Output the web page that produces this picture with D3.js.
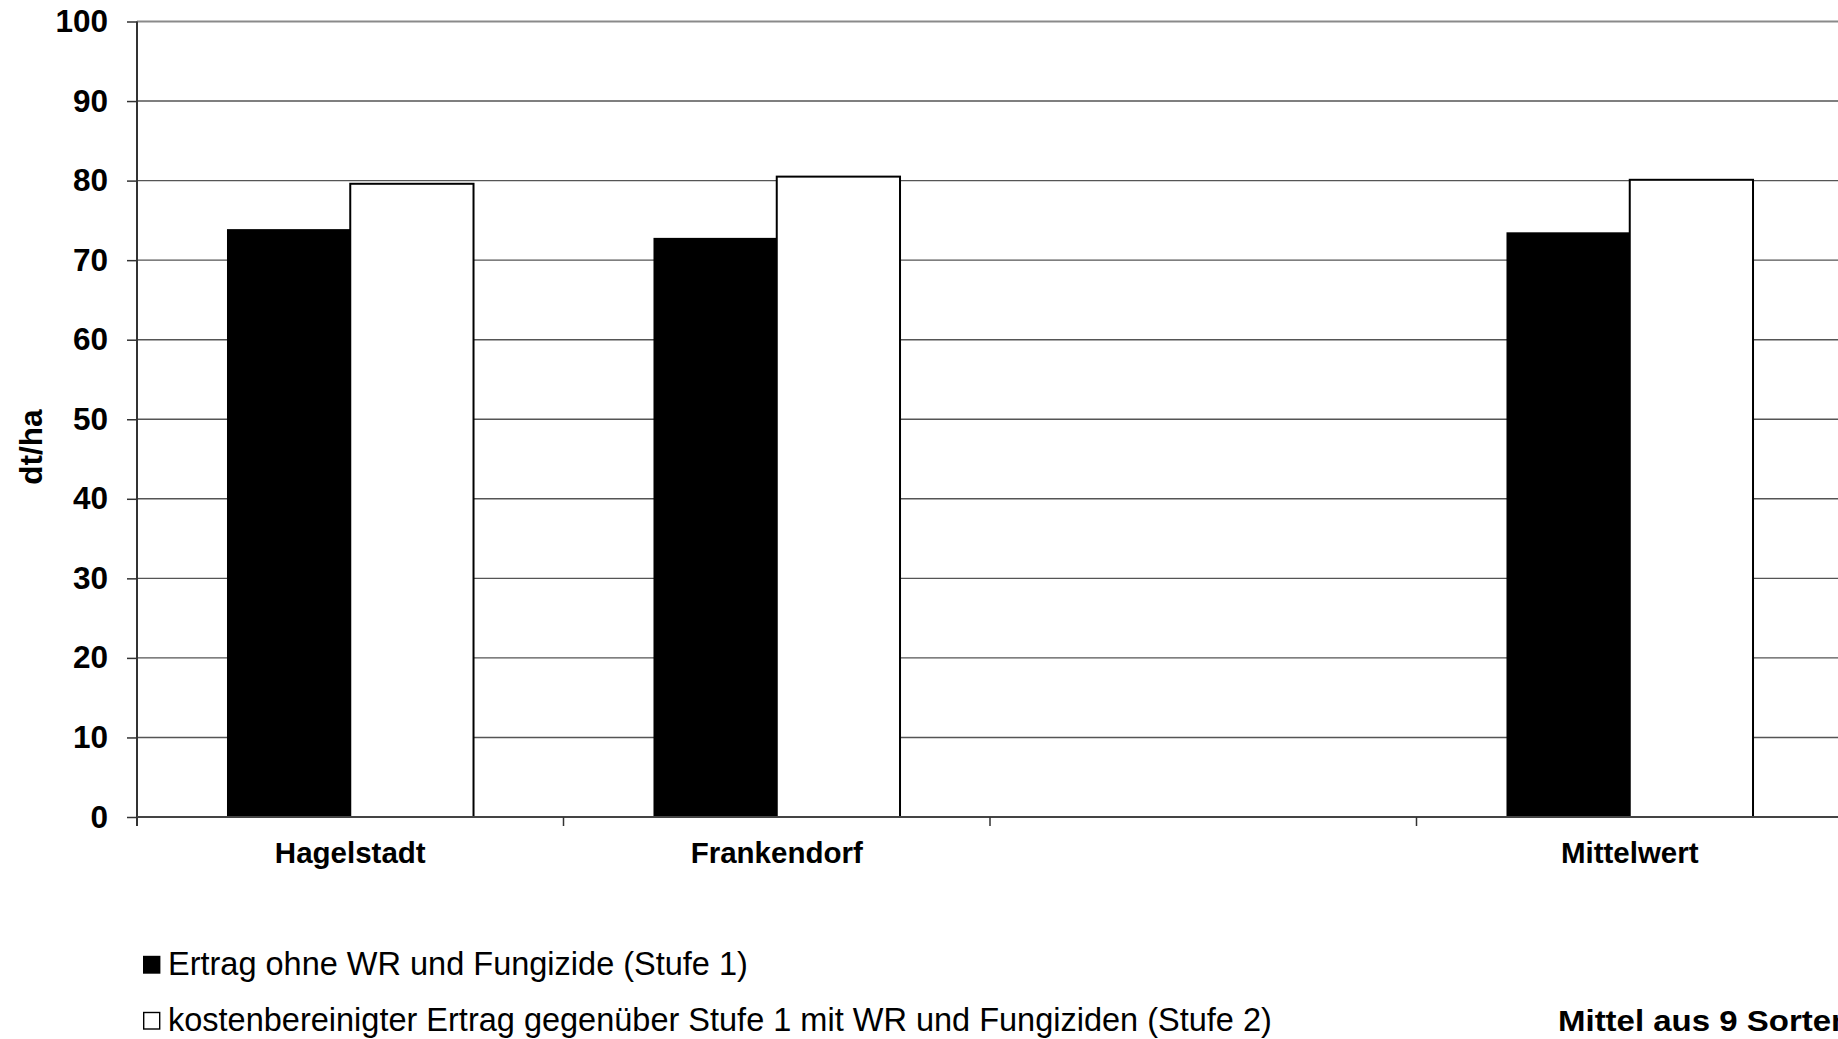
<!DOCTYPE html>
<html>
<head>
<meta charset="utf-8">
<script src="https://cdn.jsdelivr.net/npm/d3@7"></script>
<style>
  html, body { margin: 0; padding: 0; background: #fff; overflow: hidden; }
  svg { display: block; font-family: "Liberation Sans", Arial, sans-serif; }
</style>
</head>
<body>
<svg id="chart" width="1838" height="1039"></svg>
<script>
// ---- data ----
const categories = ["Hagelstadt", "Frankendorf", "", "Mittelwert"];
const seriesNames = [
  "Ertrag ohne WR und Fungizide (Stufe 1)",
  "kostenbereinigter Ertrag gegenüber Stufe 1 mit WR und Fungiziden (Stufe 2)"
];
const stufe1 = [73.9, 72.8, null, 73.5];
const stufe2 = [79.6, 80.5, null, 80.1];
const seriesFill = ["#000000", "#ffffff"];
const yTicks = [0, 10, 20, 30, 40, 50, 60, 70, 80, 90, 100];
const yTitle = "dt/ha";
const noteText = "Mittel aus 9 Sorten";

// ---- layout ----
(function () {
const svg = d3.select("#chart");
const pLeft = 137, pRight = 1843, pTop = 21.5, pBottom = 817;

const y = d3.scaleLinear().domain([0, 100]).range([pBottom, pTop]);
const x0 = d3.scaleBand().domain(categories.map((c, i) => i)).range([pLeft, pRight]).padding(0);
const x1 = d3.scaleBand().domain([0, 1]).range([0, x0.bandwidth()]).paddingInner(0).paddingOuter(0.73);

// gridlines
const grid = svg.append("g");
grid.selectAll("line").data(yTicks.filter(t => t > 0)).join("line")
  .attr("x1", pLeft).attr("x2", 1838)
  .attr("y1", d => y(d)).attr("y2", d => y(d))
  .attr("stroke", d => d === 100 ? "#8a8a8a" : "#555")
  .attr("stroke-width", d => d === 100 ? 2 : 1.4);

// bars
const series = [stufe1, stufe2];
series.forEach((vals, s) => {
  svg.append("g").selectAll("rect")
    .data(vals.map((v, i) => ({ v, i })).filter(d => d.v != null))
    .join("rect")
    .attr("x", d => x0(d.i) + x1(s))
    .attr("width", x1.bandwidth())
    .attr("y", d => y(d.v))
    .attr("height", d => y(0) - y(d.v))
    .attr("fill", seriesFill[s])
    .attr("stroke", s === 1 ? "#000" : "none")
    .attr("stroke-width", 2);
});

// y axis
const yAxis = d3.axisLeft(y).tickValues(yTicks).tickSize(10).tickPadding(19).tickFormat(d3.format("d"));
const gy = svg.append("g").attr("transform", `translate(${pLeft},0)`).call(yAxis);
gy.select(".domain").attr("stroke", "#333").attr("stroke-width", 2).attr("d", `M0,${pTop}V${pBottom + 9}`);
gy.selectAll(".tick line").attr("stroke", "#333").attr("stroke-width", 1.5);
gy.selectAll(".tick text")
  .attr("font-family", "'Liberation Sans', Arial, sans-serif")
  .attr("font-size", 31.5).attr("font-weight", "bold").attr("fill", "#000");

// x axis line
svg.append("line").attr("x1", pLeft).attr("x2", 1838).attr("y1", pBottom).attr("y2", pBottom)
  .attr("stroke", "#444").attr("stroke-width", 2);
// x boundary ticks
const bounds = categories.map((c, i) => x0(i)).concat([x0(categories.length - 1) + x0.step()]);
svg.append("g").selectAll("line").data(bounds).join("line")
  .attr("x1", d => d).attr("x2", d => d)
  .attr("y1", pBottom).attr("y2", pBottom + 9)
  .attr("stroke", "#333").attr("stroke-width", 1.5);
// x labels
svg.append("g").selectAll("text").data(categories).join("text")
  .attr("x", (d, i) => x0(i) + x0.bandwidth() / 2)
  .attr("y", 863)
  .attr("text-anchor", "middle")
  .attr("font-size", 29.5).attr("font-weight", "bold").attr("fill", "#000")
  .text(d => d);

// y title
svg.append("text")
  .attr("transform", "translate(42,447) rotate(-90)")
  .attr("text-anchor", "middle")
  .attr("font-size", 31.5).attr("font-weight", "bold").attr("fill", "#000")
  .text(yTitle);

// legend
const leg = svg.append("g");
seriesNames.forEach((name, i) => {
  const g = leg.append("g").attr("transform", `translate(143,${975 + i * 56})`);
  g.append("rect").attr("x", 0.7).attr("y", -18.5).attr("width", 16).attr("height", 16.5)
    .attr("fill", seriesFill[i]).attr("stroke", "#000").attr("stroke-width", 1.4);
  g.append("text").attr("x", 25).attr("y", 0)
    .attr("font-size", 32.5).attr("fill", "#000").text(name);
});

// note
svg.append("text")
  .attr("transform", "translate(1558,1031) scale(1.1,1)")
  .attr("font-size", 30).attr("font-weight", "bold").attr("fill", "#000")
  .text(noteText);
})();
</script>
</body>
</html>
